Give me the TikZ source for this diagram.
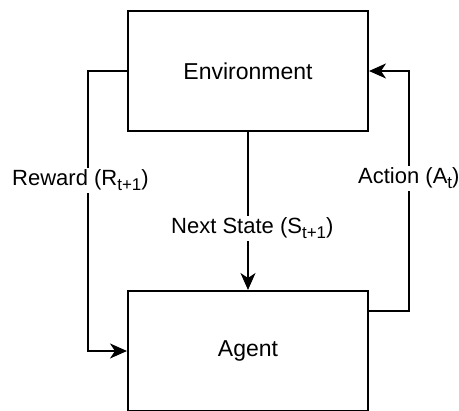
\documentclass[tikz,border=0pt]{standalone}
\usepackage{fontspec}
\setmainfont{Liberation Sans}
\usetikzlibrary{arrows.meta}
\newcommand{\mysub}[1]{\raisebox{-5pt}{\fontsize{17}{20}\selectfont #1}}
\begin{document}
\begin{tikzpicture}[x=1pt,y=-1pt,
  box/.style={draw, line width=2pt, minimum width=240pt, minimum height=120pt, inner sep=0pt, font=\fontsize{23}{28}\selectfont},
  conn/.style={line width=2pt, -{Stealth[length=17pt,width=15pt,inset=5pt]}},
  lbl/.style={fill=white, inner xsep=1pt, inner ysep=2pt, anchor=base west, font=\fontsize{22}{26}\selectfont}]
\useasboundingbox (0,0) rectangle (459,411);
\node[box] (env) at (248,71) {Environment};
\node[box] (agent) at (248,351) {Agent};
% reward
\coordinate (rtop) at (88,71);
\coordinate (rbot) at (88,351);
\draw[conn] (env.west) -- (rtop) -- (rbot) -- (agent.west);
% action
\coordinate (aout) at (368,311);
\coordinate (abot) at (409,311);
\coordinate (atop) at (409,71);
\draw[conn] (aout) -- (abot) -- (atop) -- (env.east);
% next state
\draw[conn] (env.south) -- (agent.north);
\node[lbl] (rew) at (11,186) {Reward (R\mysub{t+1})};
\node[lbl] (act) at (357,184) {Action (A\mysub{t})};
\node[lbl] (ns) at (170,234) {Next State (S\mysub{t+1})};
\end{tikzpicture}
\end{document}
